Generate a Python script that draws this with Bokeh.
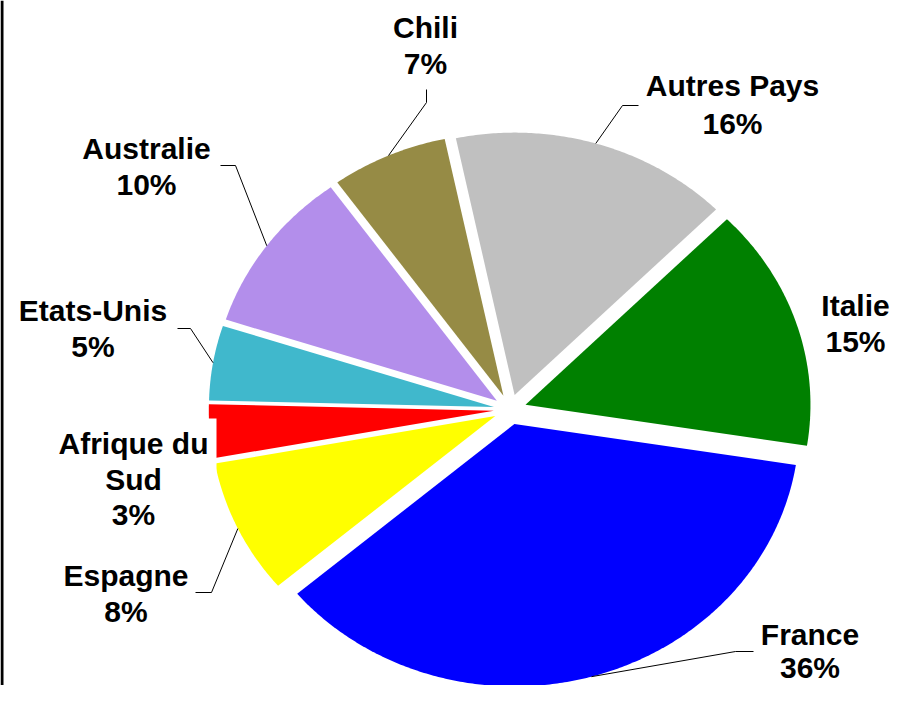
import numpy as np
from bokeh.plotting import figure
from bokeh.models import Range1d, ColumnDataSource
from bokeh.core.properties import value
from bokeh.embed import file_html
from bokeh.resources import INLINE

# ---------------- data ----------------
countries = ["Autres Pays", "Italie", "France", "Espagne",
             "Afrique du Sud", "Etats-Unis", "Australie", "Chili"]
shares = [15.8, 15.0, 36.3, 8.3, 3.3, 4.6, 10.1, 6.6]
name_lines = [["Autres Pays"], ["Italie"], ["France"], ["Espagne"],
              ["Afrique du", "Sud"], ["Etats-Unis"], ["Australie"], ["Chili"]]
colors = ["#C0C0C0", "#008000", "#0000FF", "#FFFF00",
          "#FF0000", "#40B8CC", "#B38EEB", "#968B45"]

# ---------------- layout (pixels of the picture) ----------------
CX, CY = 509.5, 409.0      # pie centre
R = 262.5                  # vertical radius
KX = 1.0856                # horizontal stretch of the pie
EXPLODE = 15.0             # explosion distance
START = -11.9              # start angle, degrees clockwise from 12 o'clock
LINE_H = 35.5
FONT = "30px"

label_pos = {              # centre x, middle of the first line, line step
    "Autres Pays": (732, 85, 38),
    "Italie": (855, 305, LINE_H),
    "France": (809.5, 634, 33),
    "Espagne": (125.5, 575, LINE_H),
    "Afrique du Sud": (133, 443, LINE_H),
    "Etats-Unis": (92.5, 310, LINE_H),
    "Australie": (146, 148, LINE_H),
    "Chili": (425, 27, 36),
}
leader_elbows = {          # points from the slice towards the label
    "Autres Pays": [(622, 105), (638, 105)],
    "France": [(735, 651), (753, 651)],
    "Espagne": [(211, 592), (195, 592)],
    "Etats-Unis": [(190, 328), (177, 328)],
    "Australie": [(235, 165), (220, 165)],
    "Chili": [(426, 102), (426, 89)],
}
label_boxes = {"Afrique du Sud": (50, 216, 418, 535)}   # l, r, top, bottom

# ---------------- figure ----------------
W, H = 891, 685
p = figure(width=W, height=H, x_range=Range1d(0, W), y_range=Range1d(H, 0),
           x_axis_type=None, y_axis_type=None, toolbar_location=None,
           output_backend="svg", min_border=0)
p.grid.visible = False
p.outline_line_color = None
p.background_fill_color = "white"
p.border_fill_color = "white"

total = float(sum(shares))
edges = START + 360.0 * np.concatenate([[0.0], np.cumsum(shares) / total])

xs, ys, mids = [], [], []
for i in range(len(shares)):
    a0, a1 = edges[i], edges[i + 1]
    mid = np.radians((a0 + a1) / 2)
    ox, oy = EXPLODE * np.sin(mid), -EXPLODE * np.cos(mid)
    t = np.radians(np.linspace(a0, a1, max(int((a1 - a0) * 2), 8)))
    u = ox + R * np.sin(t)
    v = oy - R * np.cos(t)
    xs.append([CX + KX * ox] + list(CX + KX * u))
    ys.append([CY + oy] + list(CY + v))
    mids.append((CX + KX * (ox + R * np.sin(mid)), CY + oy - R * np.cos(mid)))

p.patches(xs="xs", ys="ys", fill_color="color", line_color=None,
          source=ColumnDataSource(dict(xs=xs, ys=ys, color=colors)))

# leader lines
lx, ly = [], []
for i, c in enumerate(countries):
    if c in leader_elbows:
        pts = [mids[i]] + leader_elbows[c]
        lx.append([q[0] for q in pts])
        ly.append([q[1] for q in pts])
p.multi_line(xs=lx, ys=ly, line_color="black", line_width=1)

# label background boxes
for c, (l, r, tp, bt) in label_boxes.items():
    p.quad(left=[l], right=[r], top=[tp], bottom=[bt], fill_color="white", line_color=None)

# labels
tx, ty, tt = [], [], []
for i, c in enumerate(countries):
    lines = name_lines[i] + [f"{round(shares[i] / total * 100)}%"]
    x0, y0, step = label_pos[c]
    for k, s in enumerate(lines):
        tx.append(x0)
        ty.append(y0 + k * step)
        tt.append(s)
p.text(x="x", y="y", text="text", source=ColumnDataSource(dict(x=tx, y=ty, text=tt)),
       text_align="center", text_baseline="middle",
       text_font=value("Liberation Sans"), text_font_style="bold",
       text_font_size=FONT, text_color="black")

# left border of the chart area
p.quad(left=[0], right=[3], top=[0], bottom=[H], fill_color="black", line_color=None)

open("out.html", "w").write(file_html(p, INLINE))
